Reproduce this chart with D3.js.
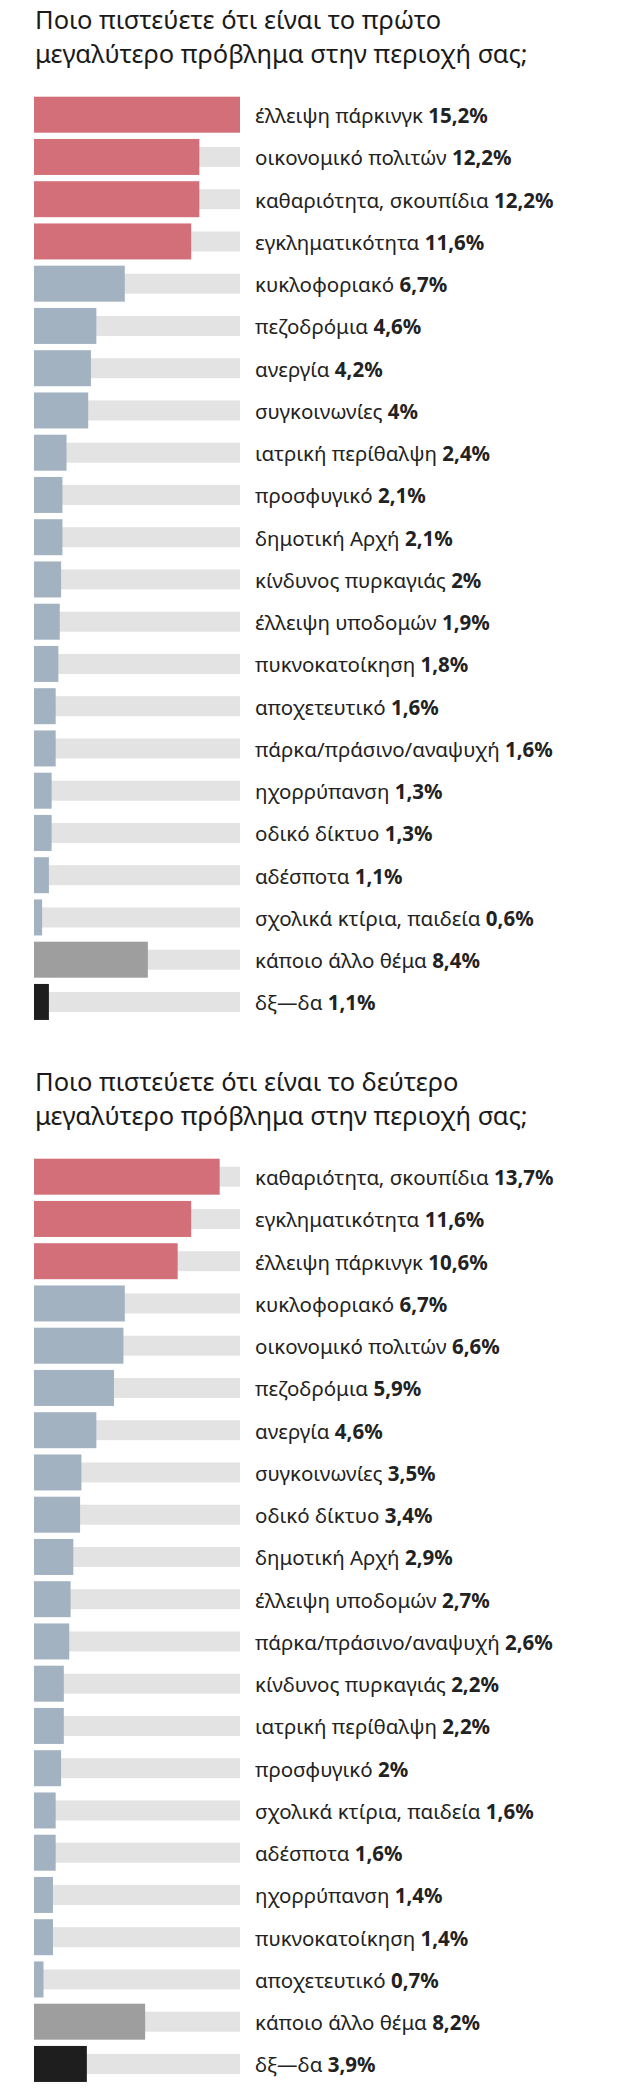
<!DOCTYPE html>
<html>
<head>
<meta charset="utf-8">
<script src="https://cdn.jsdelivr.net/npm/d3@7"></script>
<style>
  body { margin: 0; background: #fff; }
  svg { display: block; font-family: "Noto Sans", "DejaVu Sans", sans-serif; }
</style>
</head>
<body>
<svg id="chart" width="639" height="2099"></svg>
<script>
///////// Data: first biggest problem
var title1 = ["Ποιο πιστεύετε ότι είναι το πρώτο", "μεγαλύτερο πρόβλημα στην περιοχή σας;"]
var labels1 = ["έλλειψη πάρκινγκ", "οικονομικό πολιτών", "καθαριότητα, σκουπίδια", "εγκληματικότητα",
               "κυκλοφοριακό", "πεζοδρόμια", "ανεργία", "συγκοινωνίες", "ιατρική περίθαλψη",
               "προσφυγικό", "δημοτική Αρχή", "κίνδυνος πυρκαγιάς", "έλλειψη υποδομών",
               "πυκνοκατοίκηση", "αποχετευτικό", "πάρκα/πράσινο/αναψυχή", "ηχορρύπανση",
               "οδικό δίκτυο", "αδέσποτα", "σχολικά κτίρια, παιδεία", "κάποιο άλλο θέμα", "δξ—δα"]
var values1 = [15.2, 12.2, 12.2, 11.6, 6.7, 4.6, 4.2, 4, 2.4, 2.1, 2.1, 2, 1.9, 1.8, 1.6, 1.6,
               1.3, 1.3, 1.1, 0.6, 8.4, 1.1]
var highlight1 = 4

///////// Data: second biggest problem
var title2 = ["Ποιο πιστεύετε ότι είναι το δεύτερο", "μεγαλύτερο πρόβλημα στην περιοχή σας;"]
var labels2 = ["καθαριότητα, σκουπίδια", "εγκληματικότητα", "έλλειψη πάρκινγκ", "κυκλοφοριακό",
               "οικονομικό πολιτών", "πεζοδρόμια", "ανεργία", "συγκοινωνίες", "οδικό δίκτυο",
               "δημοτική Αρχή", "έλλειψη υποδομών", "πάρκα/πράσινο/αναψυχή", "κίνδυνος πυρκαγιάς",
               "ιατρική περίθαλψη", "προσφυγικό", "σχολικά κτίρια, παιδεία", "αδέσποτα",
               "ηχορρύπανση", "πυκνοκατοίκηση", "αποχετευτικό", "κάποιο άλλο θέμα", "δξ—δα"]
var values2 = [13.7, 11.6, 10.6, 6.7, 6.6, 5.9, 4.6, 3.5, 3.4, 2.9, 2.7, 2.6, 2.2, 2.2, 2, 1.6,
               1.6, 1.4, 1.4, 0.7, 8.2, 3.9]
var highlight2 = 3

var otherLabel = "κάποιο άλλο θέμα"
var dkLabel = "δξ—δα"

var svg = d3.select("#chart")

// same scale for both charts, the track is the max
var xScale = d3.scaleLinear()
    .domain([0, d3.max(values1.concat(values2))])
    .range([0, 206])

function barColor(label, i, highlightN) {
    if (label == dkLabel) return "#1e1e1e"
    if (label == otherLabel) return "#9e9e9e"
    if (i < highlightN) return "#d36f79"
    return "#a3b2c1"
}

function fmt(v) {
    return String(v).replace(".", ",") + "%"
}

///////// Draws one block: title + horizontal bars with labels
function drawChart(top, titleLines, labels, values, highlightN) {
    var g = svg.append("g").attr("transform", "translate(0," + top + ")")

    g.append("text")
        .attr("x", 35)
        .attr("y", 29)
        .attr("fill", "#1a1a1a")
        .style("font-size", "25.5px")
        .selectAll("tspan")
        .data(titleLines)
        .enter()
        .append("tspan")
        .attr("x", 35)
        .attr("dy", function(d, i) { return i == 0 ? 0 : 34 })
        .text(function(d) { return d })

    var n = labels.length
    var step = 42.25
    var yScale = d3.scaleBand()
        .domain(labels)
        .range([0, n * step])
        .paddingInner(0.148)
        .paddingOuter(0.074)

    var rows = g.append("g")
        .attr("transform", "translate(34," + (96.7 - yScale.paddingOuter() * step) + ")")
        .selectAll(".row")
        .data(labels)
        .enter()
        .append("g")
        .attr("class", "row")
        .attr("transform", function(d) { return "translate(0," + yScale(d) + ")" })

    var bh = yScale.bandwidth()
    var trackH = 20

    rows.append("rect")
        .attr("class", "track")
        .attr("x", 0)
        .attr("y", (bh - trackH) / 2)
        .attr("width", xScale.range()[1])
        .attr("height", trackH)
        .attr("fill", "#e3e3e3")

    rows.append("rect")
        .attr("class", "bar")
        .attr("x", 0)
        .attr("y", 0)
        .attr("width", function(d, i) { return xScale(values[i]) })
        .attr("height", bh)
        .attr("fill", function(d, i) { return barColor(d, i, highlightN) })

    var txt = rows.append("text")
        .attr("x", 221)
        .attr("y", bh / 2 + 8.5)
        .attr("fill", "#222")
        .style("font-size", "20.5px")

    txt.append("tspan").text(function(d) { return d + " " })
    txt.append("tspan")
        .style("font-weight", "bold")
        .text(function(d, i) { return fmt(values[i]) })
}

drawChart(0, title1, labels1, values1, highlight1)
drawChart(1062, title2, labels2, values2, highlight2)
</script>
</body>
</html>
